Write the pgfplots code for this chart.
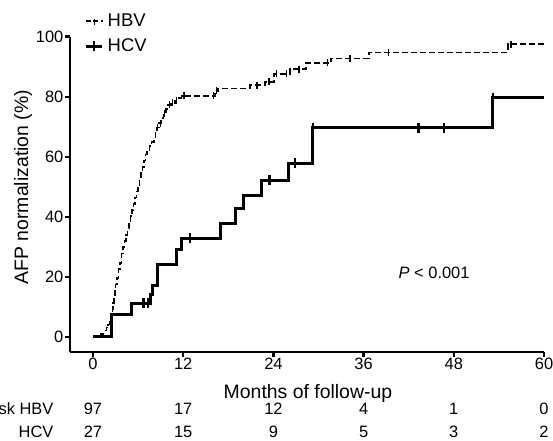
\documentclass[border=0pt]{standalone}
\usepackage{fontspec}
\setmainfont{Liberation Sans}
\usepackage{pgfplots}
\pgfplotsset{compat=1.18}

\begin{document}
\begin{tikzpicture}
\begin{axis}[
  at={(0,0)}, anchor=south west,
  scale only axis, width=474bp, height=315.3bp,
  xmin=-3.06, xmax=60, ymin=-5, ymax=100,
  axis lines=left, axis line style={-, line width=2.4bp},
  xtick={0,12,...,60}, ytick={0,20,...,100},
  tick align=outside, major tick length=5bp,
  tick style={line width=2.4bp, black},
  /pgf/number format/assume math mode=true,
  ticklabel style={font=\fontsize{16.5}{18}\selectfont},
  xticklabel style={inner sep=1bp},
  yticklabel style={inner sep=1.5bp},
  xlabel={Months of follow-up},
  ylabel={AFP normalization (\%)},
  label style={font=\fontsize{19.5}{22}\selectfont, inner sep=0pt},
  xlabel style={at={(axis description cs:0.502,-0.146)}, anchor=base},
  ylabel style={at={(axis description cs:-0.099,0.523)}, anchor=center},
  legend style={at={(axis description cs:0.03,1.073)}, anchor=north west,
    draw=none, fill=none, font=\fontsize{18.5}{20}\selectfont,
    row sep=11bp, inner sep=0pt, nodes={inner xsep=4bp, inner ysep=0pt}},
  legend cell align=left,
  clip=false,
]
% HBV
\addplot[black, const plot, line width=1.6bp, dash pattern=on 6bp off 3bp,
  legend image code/.code={
    \draw[black, line width=1.6bp, dash pattern=on 5bp off 2.5bp] (0bp,0bp) -- (17bp,0bp);
    \draw[black, line width=1.3bp] (8.5bp,-4bp) -- (8.5bp,4bp);}]
coordinates {
(0,0) (1.1,1.0) (1.4,2.1) (1.8,3.1) (2.0,4.1) (2.2,5.2) (2.3,6.2) (2.4,7.2)
(2.5,8.2) (2.6,9.3) (2.7,11.3) (2.8,13.4) (2.9,15.5) (3.0,17.5) (3.2,19.6)
(3.4,22.7) (3.6,24.7) (3.8,27.8) (4.0,29.9) (4.2,32.0) (4.4,34.0) (4.6,36.1)
(4.8,38.1) (5.0,40.2) (5.2,42.3) (5.4,44.3) (5.6,46.4) (5.8,48.5) (6.0,50.5)
(6.2,52.6) (6.4,54.6) (6.6,56.7) (6.8,58.8) (7.0,60.8) (7.2,62.2) (7.5,63.6)
(7.8,65.0) (8.1,66.4) (8.3,68.3) (8.5,69.7) (8.8,71.2) (9.1,73.0) (9.4,74.5)
(9.7,75.9) (10.0,77.3) (10.4,78.0) (10.9,78.8) (11.3,79.5) (11.8,80.3)
(16.2,82.0) (16.6,82.8) (20.9,83.9) (22.9,85.0) (24.1,87.6) (26.2,89.2)
(28.3,91.3) (31.7,92.8) (36.7,94.8) (55.2,97.5) (60,97.5)
};
\addlegendentry{HBV}
% HCV
\addplot[black, const plot, line width=3bp,
  legend image code/.code={
    \draw[black, line width=3bp] (0bp,0bp) -- (16bp,0bp);
    \draw[black, line width=2.4bp] (8bp,-5bp) -- (8bp,5bp);}]
coordinates {
(0,0) (2.4,7.4) (5.1,11.3) (7.6,14.0) (7.9,17.0) (8.6,24.0) (11.1,29.0)
(11.8,32.8) (16.9,37.8) (18.9,42.8) (20.0,47.2) (22.4,52.2) (26.0,57.8)
(29.2,69.7) (53.1,79.7) (60,79.7)
};
\addlegendentry{HCV}
% censored observations
\addplot[black, only marks, mark=|, mark size=3.5bp, mark options={line width=1.3bp}, forget plot]
coordinates {
(8.6,69.7) (9.0,71.2) (9.5,74.5) (10.2,77.3) (10.6,78.0) (11.1,78.8) (12.1,80.3)
(16.0,80.3) (16.4,82.0) (21.8,83.9) (23.4,85.0) (24.4,87.6) (25.7,87.6)
(27.4,89.2) (31.2,91.3) (34.2,92.8) (39.3,94.8) (55.6,97.5)
};
\addplot[black, only marks, mark=|, mark size=5bp, mark options={line width=2.4bp}, forget plot]
coordinates {
(6.7,11.3) (7.3,11.3) (12.9,32.8) (23.5,52.2) (26.9,57.8) (29.3,69.7)
(43.3,69.7) (46.7,69.7) (53.2,79.7)
};
\node[anchor=base west, font=\fontsize{16.5}{18}\selectfont] at (axis cs:40.2,19.6) {\textit{P} < 0.001};
% numbers at risk
\node[anchor=base east, font=\fontsize{16.5}{18}\selectfont] at (axis cs:-4.8,-25.8) {At risk HBV};
\node[anchor=base east, font=\fontsize{16.5}{18}\selectfont] at (axis cs:-4.8,-33.4) {HCV};
\node[anchor=base, font=\fontsize{16.5}{18}\selectfont] at (axis cs:0,-25.8) {97};
\node[anchor=base, font=\fontsize{16.5}{18}\selectfont] at (axis cs:12,-25.8) {17};
\node[anchor=base, font=\fontsize{16.5}{18}\selectfont] at (axis cs:24,-25.8) {12};
\node[anchor=base, font=\fontsize{16.5}{18}\selectfont] at (axis cs:36,-25.8) {4};
\node[anchor=base, font=\fontsize{16.5}{18}\selectfont] at (axis cs:48,-25.8) {1};
\node[anchor=base, font=\fontsize{16.5}{18}\selectfont] at (axis cs:60,-25.8) {0};
\node[anchor=base, font=\fontsize{16.5}{18}\selectfont] at (axis cs:0,-33.4) {27};
\node[anchor=base, font=\fontsize{16.5}{18}\selectfont] at (axis cs:12,-33.4) {15};
\node[anchor=base, font=\fontsize{16.5}{18}\selectfont] at (axis cs:24,-33.4) {9};
\node[anchor=base, font=\fontsize{16.5}{18}\selectfont] at (axis cs:36,-33.4) {5};
\node[anchor=base, font=\fontsize{16.5}{18}\selectfont] at (axis cs:48,-33.4) {3};
\node[anchor=base, font=\fontsize{16.5}{18}\selectfont] at (axis cs:60,-33.4) {2};
\end{axis}
\pgfresetboundingbox
\path[use as bounding box] (-70bp,-89bp) rectangle (483bp,352bp);
\end{tikzpicture}
\end{document}
